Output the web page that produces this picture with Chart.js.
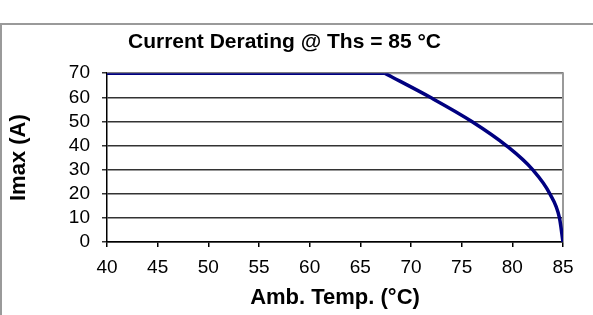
<!DOCTYPE html>
<html>
<head>
<meta charset="utf-8">
<script src="https://cdn.jsdelivr.net/npm/chart.js@4/dist/chart.umd.min.js"></script>
<style>
  html, body { margin: 0; padding: 0; background: #fff; }
  #wrap { position: relative; width: 593px; height: 315px; }
  #frame { position: absolute; left: 0; top: 23px; width: 600px; height: 300px;
           border-top: 2px solid #9a9a9a; border-left: 2px solid #9a9a9a; }
  canvas { position: absolute; left: 0; top: 0; }
</style>
</head>
<body>
<div id="wrap">
  <div id="frame"></div>
  <canvas id="myChart" width="593" height="315"></canvas>
</div>
<script>
// 读图得到的降额曲线 (前两点为平台段)
const tempC = [40, 67.4, 71.9, 76.0, 79.4, 82.0, 83.7, 84.65, 85];
const imaxA = [70, 70, 60, 50, 40, 30, 20, 10, 0];
const xTicks = [40, 45, 50, 55, 60, 65, 70, 75, 80, 85];
const yTicks = [0, 10, 20, 30, 40, 50, 60, 70];

const points = tempC.map((t, i) => ({ x: t, y: imaxA[i] }));
const flatPart = points.slice(0, 2);
const curvePart = points.slice(1);

// 绘图区上边和右边的灰色边框
const plotBorder = {
    id: 'plotBorder',
    beforeDatasetsDraw(chart) {
        const { ctx, chartArea: a } = chart;
        ctx.save();
        ctx.strokeStyle = '#9a9a9a';
        ctx.lineWidth = 2;
        ctx.beginPath();
        ctx.moveTo(a.left, a.top);
        ctx.lineTo(a.right, a.top);
        ctx.lineTo(a.right, a.bottom);
        ctx.stroke();
        ctx.restore();
    }
};

const lineStyle = {
    borderColor: '#000080',
    borderWidth: 3.5,
    pointRadius: 0,
    fill: false
};

const ctx = document.getElementById('myChart').getContext('2d');
const chart = new Chart(ctx, {
    type: 'line',
    data: {
        datasets: [
            { ...lineStyle, data: flatPart, tension: 0 },
            { ...lineStyle, data: curvePart, cubicInterpolationMode: 'monotone' }
        ]
    },
    options: {
        responsive: false,
        animation: false,
        layout: { padding: { left: 6, right: 30, top: 0, bottom: 0 } },
        plugins: {
            legend: { display: false },
            tooltip: { enabled: false },
            title: {
                display: true,
                text: 'Current Derating @ Ths = 85 °C',
                color: '#000',
                font: { family: 'Liberation Sans', size: 21, weight: 'bold' },
                padding: { top: 30, bottom: 18 }
            }
        },
        scales: {
            x: {
                type: 'linear',
                min: 40,
                max: 85,
                afterBuildTicks: s => { s.ticks = xTicks.map(v => ({ value: v })); },
                afterFit: s => { s.height = 73; },
                border: { display: true, color: '#000', width: 1.5 },
                grid: { drawOnChartArea: false, drawTicks: true, tickLength: 5, color: '#000', lineWidth: 1.5 },
                ticks: { color: '#000', padding: 9, maxRotation: 0, autoSkip: false,
                         font: { family: 'Liberation Sans', size: 19 } },
                title: { display: true, text: 'Amb. Temp. (°C)', color: '#000',
                         font: { family: 'Liberation Sans', size: 22, weight: 'bold' },
                         padding: { top: 0, bottom: 4 } }
            },
            y: {
                min: 0,
                max: 70,
                afterBuildTicks: s => { s.ticks = yTicks.map(v => ({ value: v })); },
                afterFit: s => { s.width = 101; },
                border: { display: true, color: '#000', width: 1.5 },
                grid: { color: '#333', lineWidth: 1.5, tickLength: 5 },
                ticks: { color: '#000', padding: 12, autoSkip: false,
                         font: { family: 'Liberation Sans', size: 19 } },
                title: { display: true, text: 'Imax (A)', color: '#000',
                         font: { family: 'Liberation Sans', size: 22, weight: 'bold' },
                         padding: { top: 0, bottom: 8 } }
            }
        }
    },
    plugins: [plotBorder]
});
</script>
</body>
</html>
